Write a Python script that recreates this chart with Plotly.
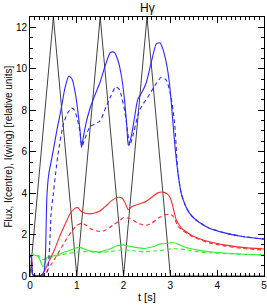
import plotly.graph_objects as go

# Black triangular driving profile
t_drive = [0, 0.5, 1.0, 1.5, 2.0, 2.5, 3.0, 5.0]
v_drive = [0, 12.5, 0, 12.5, 0, 12.5, 0, 0]

# Blue solid
t_blue = [0, 0.03, 0.06, 0.15, 0.25, 0.3, 0.33, 0.36, 0.4, 0.45, 0.5, 0.58, 0.66, 0.75, 0.83, 0.9, 0.97,
          1.02, 1.07, 1.1, 1.14, 1.2, 1.27, 1.38, 1.49, 1.6, 1.72, 1.8, 1.88, 1.95, 2.02, 2.07, 2.1, 2.16,
          2.23, 2.3, 2.4, 2.48, 2.6, 2.7, 2.78, 2.84, 2.92, 2.98, 3.04, 3.1, 3.16, 3.23, 3.32, 3.4, 3.5,
          3.62, 3.83, 4.18, 4.54, 5.0]
v_blue = [1.0, 0.9, 0.05, 0.0, 0.05, 0.2, 1.0, 3.8, 4.9, 5.5, 6.1, 7.1, 8.0, 9.1, 9.65, 9.5, 8.8,
          8.0, 7.0, 6.2, 6.7, 7.4, 8.0, 8.7, 9.3, 10.1, 10.8, 10.8, 10.4, 9.7, 8.5, 7.2, 6.3, 6.7,
          7.6, 8.5, 8.9, 9.3, 10.4, 11.2, 11.25, 10.95, 10.2, 9.3, 7.8, 6.2, 5.0, 4.0, 3.4, 3.06, 2.8,
          2.58, 2.31, 2.07, 1.91, 1.78]

# Blue dashed
t_blue_d = [0, 0.03, 0.06, 0.15, 0.25, 0.33, 0.38, 0.42, 0.45, 0.5, 0.55, 0.6, 0.71, 0.8, 0.89, 0.95,
            1.03, 1.07, 1.11, 1.17, 1.28, 1.49, 1.63, 1.73, 1.83, 1.91, 2.02, 2.09, 2.13, 2.18, 2.34,
            2.55, 2.7, 2.8, 2.91, 3.01, 3.09, 3.16, 3.23, 3.32, 3.4, 3.5, 3.62, 3.83, 4.18, 4.54, 5.0]
v_blue_d = [1.0, 0.9, 0.1, 0.0, 0.0, 0.05, 0.3, 1.5, 3.0, 4.0, 5.0, 5.9, 7.3, 7.85, 8.1, 8.0,
            7.4, 6.9, 6.26, 6.6, 7.2, 7.47, 8.19, 8.7, 9.12, 9.0, 8.0, 6.9, 6.3, 6.6, 8.0,
            8.75, 9.3, 9.58, 9.46, 8.67, 7.39, 5.0, 4.0, 3.4, 3.06, 2.8, 2.58, 2.31, 2.07, 1.91, 1.78]

# Red solid
t_red = [0, 0.03, 0.06, 0.15, 0.25, 0.3, 0.35, 0.43, 0.53, 0.64, 0.75, 0.85, 0.95, 1.02, 1.08, 1.15,
         1.28, 1.4, 1.5, 1.63, 1.75, 1.88, 1.97, 2.03, 2.1, 2.18, 2.3, 2.48, 2.6, 2.72, 2.84, 2.94,
         3.0, 3.05, 3.12, 3.19, 3.26, 3.36, 3.47, 3.62, 3.83, 4.18, 4.54, 5.0]
v_red = [0.95, 0.9, 0.05, 0.0, 0.05, 0.2, 0.45, 0.82, 1.3, 1.94, 2.5, 2.98, 3.25, 3.3, 3.15, 3.05,
         3.0, 3.05, 3.15, 3.4, 3.65, 3.8, 3.75, 3.55, 3.2, 3.35, 3.45, 3.6, 3.8, 4.0, 4.05, 3.95,
         3.75, 3.38, 2.74, 2.45, 2.26, 2.1, 1.94, 1.8, 1.65, 1.49, 1.38, 1.3]

# Red dashed
t_red_d = [0, 0.03, 0.06, 0.15, 0.25, 0.32, 0.38, 0.46, 0.57, 0.68, 0.78, 0.88, 0.99, 1.1, 1.2, 1.31,
           1.49, 1.6, 1.7, 1.8, 1.91, 2.0, 2.1, 2.2, 2.3, 2.48, 2.6, 2.75, 2.88, 2.98, 3.05, 3.1,
           3.16, 3.26, 3.36, 3.47, 3.62, 3.83, 4.18, 4.54, 5.0]
v_red_d = [0.95, 0.9, 0.05, 0.0, 0.02, 0.1, 0.3, 0.58, 0.98, 1.4, 1.78, 2.12, 2.42, 2.55, 2.45, 2.26,
           2.15, 2.2, 2.34, 2.5, 2.66, 2.82, 2.8, 2.7, 2.55, 2.45, 2.55, 2.8, 2.95, 2.98, 2.9, 2.7,
           2.42, 2.2, 2.05, 1.9, 1.76, 1.6, 1.44, 1.33, 1.25]

# Green solid
t_green = [0, 0.1, 0.15, 0.2, 0.24, 0.28, 0.32, 0.36, 0.45, 0.55, 0.64, 0.8, 0.95, 1.06, 1.15, 1.3,
           1.49, 1.7, 1.85, 1.99, 2.1, 2.25, 2.45, 2.6, 2.8, 2.94, 3.05, 3.15, 3.33, 3.6, 3.83, 4.2,
           4.6, 5.0]
v_green = [1.0, 1.0, 0.98, 0.85, 0.6, 0.45, 0.6, 0.9, 0.95, 1.0, 1.06, 1.2, 1.33, 1.38, 1.32, 1.2,
           1.17, 1.3, 1.45, 1.5, 1.45, 1.38, 1.33, 1.4, 1.55, 1.58, 1.62, 1.55, 1.38, 1.25, 1.17, 1.1,
           1.05, 1.02]

# Green dashed
t_green_d = [0, 0.1, 0.15, 0.2, 0.25, 0.3, 0.36, 0.45, 0.64, 0.8, 1.06, 1.3, 1.49, 1.7, 1.99, 2.2,
             2.45, 2.7, 2.94, 3.05, 3.2, 3.33, 3.6, 3.83, 4.2, 4.6, 5.0]
v_green_d = [1.0, 1.03, 1.0, 0.95, 0.82, 0.8, 0.88, 0.92, 1.0, 1.08, 1.17, 1.17, 1.13, 1.18, 1.27, 1.22,
             1.17, 1.22, 1.27, 1.33, 1.3, 1.27, 1.17, 1.12, 1.08, 1.04, 1.02]

x_ticks = [0, 1, 2, 3, 4, 5]
y_ticks = [0, 2, 4, 6, 8, 10, 12]

FONT = "Liberation Sans, Arial, sans-serif"
BLUE = "#2828ff"
RED = "#ff2828"
GREEN = "#30f030"
DASH = "4px,3px"

fig = go.Figure()
fig.add_trace(go.Scatter(x=t_drive, y=v_drive, mode="lines", line=dict(color="#404040", width=1)))
for tt, vv, col, dash in [
    (t_green_d, v_green_d, GREEN, DASH),
    (t_green, v_green, GREEN, "solid"),
    (t_red_d, v_red_d, RED, DASH),
    (t_red, v_red, RED, "solid"),
    (t_blue_d, v_blue_d, BLUE, DASH),
    (t_blue, v_blue, BLUE, "solid"),
]:
    fig.add_trace(go.Scatter(x=tt, y=vv, mode="lines",
                             line=dict(color=col, width=1.1, dash=dash, shape="spline", smoothing=0.6)))

axis_common = dict(
    showline=True, linecolor="black", linewidth=1, mirror="ticks",
    ticks="inside", ticklen=6, tickcolor="black", tickwidth=1,
    showgrid=False, zeroline=False, automargin=False, ticklabeloverflow="allow",
    tickfont=dict(family=FONT, size=10, color="black"),
)

fig.update_layout(
    width=267, height=305,
    margin=dict(l=30, r=3, t=17, b=29),
    paper_bgcolor="white", plot_bgcolor="white",
    showlegend=False,
    xaxis=dict(axis_common, range=[0, 5], tickvals=x_ticks,
               minor=dict(ticks="inside", dtick=0.1, ticklen=3, tickcolor="black")),
    yaxis=dict(axis_common, range=[0, 12.5], tickvals=y_ticks,
               minor=dict(ticks="inside", dtick=0.5, ticklen=3, tickcolor="black")),
    annotations=[
        dict(text="Hγ", xref="paper", yref="paper", x=0.5, y=1.0, xanchor="center", yanchor="bottom",
             yshift=0, showarrow=False, font=dict(family=FONT, size=12, color="black")),
        dict(text="t [s]", xref="paper", yref="paper", x=0.5, y=0, xanchor="center", yanchor="top",
             yshift=-13, showarrow=False, font=dict(family=FONT, size=11, color="black")),
        dict(text="Flux, I(centre), I(wing) [relative units]", xref="paper", yref="paper",
             x=0, y=0.5, xanchor="center", yanchor="middle", xshift=-22, textangle=-90,
             showarrow=False, font=dict(family=FONT, size=10, color="black")),
    ],
)

fig.write_html("out.html", config={"displayModeBar": False},
               post_script="document.body.style.margin='0';document.body.style.padding='0';")
